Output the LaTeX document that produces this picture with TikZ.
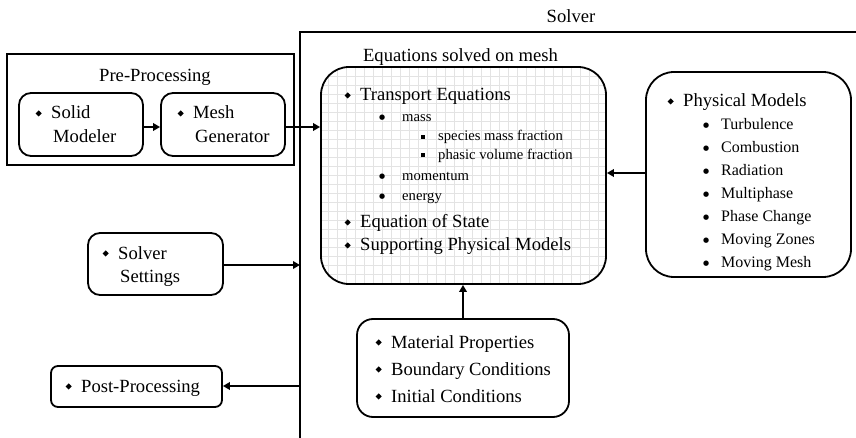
\documentclass[tikz,border=0pt]{standalone}
\usepackage{graphicx}
\usepackage{fontspec}
\setmainfont{Liberation Serif}
\newfontfamily\symf{DejaVu Sans}
\usetikzlibrary{arrows.meta}
\newcommand\mainsz{\fontsize{18.6}{22}\selectfont}
\newcommand\subsz{\fontsize{14.67}{18}\selectfont}
\newcommand\physsz{\fontsize{16}{19}\selectfont}
\newcommand\dmd{\raisebox{2.5pt}{\rotatebox{45}{\rule{4.3pt}{4.3pt}}}}
\newcommand\sqb{\raisebox{2pt}{\rule{4pt}{4pt}}}
\newcommand\rdb{\raisebox{2.6pt}{\symf\fontsize{7}{7}\selectfont ●}}
\newcommand\bl[2]{\llap{\makebox[0pt]{#1}\hspace{#2}}}
\begin{document}
\begin{tikzpicture}[x=1pt,y=-1pt,
  box/.style={draw, line width=1.8pt, rounded corners=#1, inner sep=0pt},
  box/.default=10pt,
  arr/.style={line width=2pt, -{Triangle[length=7pt,width=7.5pt]}},
  txt/.style={anchor=base west, inner sep=0pt, font=\mainsz},
  stxt/.style={anchor=base west, inner sep=0pt, font=\subsz},
  ptxt/.style={anchor=base west, inner sep=0pt, font=\physsz},
  ttl/.style={anchor=base, inner sep=0pt, font=\mainsz},
  gridc/.style={draw=black!11, line width=0.6pt}]
\useasboundingbox (0,0) rectangle (856,438);
% Solver frame
\coordinate (fbot) at (300,438);
\coordinate (fcorner) at (300,32);
\coordinate (fright) at (856,32);
\draw[line width=2pt] (fbot) -- (fcorner) -- (fright);
\node[ttl] (solvert) at (571,23) {Solver};
% Pre-processing
\node[draw, line width=2.6pt, minimum width=287pt, minimum height=111pt, inner sep=0pt] (pre) at (150.5,109.5) {};
\node[ttl] (pret) at (155,82) {Pre-Processing};
\node[box=12pt, minimum width=124pt, minimum height=63pt] (solid) at (81,124.5) {};
\node[box=12pt, minimum width=124pt, minimum height=63pt] (mesh) at (223,124.5) {};
\node[txt] (s1) at (51,119) {\bl{\dmd}{12.5pt}Solid};
\node[txt] (s2) at (53,143) {Modeler};
\node[txt] (m1t) at (193,119) {\bl{\dmd}{12.5pt}Mesh};
\node[txt] (m2t) at (195,143) {Generator};
% Solver settings
\node[box=12pt, minimum width=135pt, minimum height=62pt] (settings) at (155.5,264) {};
\node[txt] (ss1) at (118,259) {\bl{\dmd}{12.5pt}Solver};
\node[txt] (ss2) at (120,282) {Settings};
% Post
\node[box=7pt, minimum width=171pt, minimum height=41pt] (post) at (136.5,386.5) {};
\node[txt] (pp) at (81,392) {\bl{\dmd}{12.5pt}Post-Processing};
% Equations box
\node[box=28pt, minimum width=285pt, minimum height=217pt,
  path picture={\draw[gridc, step=9pt] (path picture bounding box.south west) grid (path picture bounding box.north east);}] (eq) at (463.5,175.5) {};
\node[ttl] (eqt) at (460.5,62) {Equations solved on mesh};
\node[txt] (e1) at (360,101) {\bl{\dmd}{12.5pt}Transport Equations};
\node[stxt] (e2) at (402,122) {\bl{\rdb}{20pt}mass};
\node[stxt] (e3) at (438,141) {\bl{\sqb}{15pt}species mass fraction};
\node[stxt] (e4) at (438,159.5) {\bl{\sqb}{15pt}phasic volume fraction};
\node[stxt] (e5) at (402,181) {\bl{\rdb}{20pt}momentum};
\node[stxt] (e6) at (402,201) {\bl{\rdb}{20pt}energy};
\node[txt] (e7) at (360,228) {\bl{\dmd}{12.5pt}Equation of State};
\node[txt] (e8) at (360,251) {\bl{\dmd}{12.5pt}Supporting Physical Models};
% Physical models
\node[box=28pt, minimum width=205pt, minimum height=205pt] (phys) at (748.5,174.5) {};
\node[txt] (p0) at (683,107) {\bl{\dmd}{12.5pt}Physical Models};
\node[ptxt] (p1) at (721,130) {\bl{\rdb}{15pt}Turbulence};
\node[ptxt] (p2) at (721,153) {\bl{\rdb}{15pt}Combustion};
\node[ptxt] (p3) at (721,176) {\bl{\rdb}{15pt}Radiation};
\node[ptxt] (p4) at (721,199) {\bl{\rdb}{15pt}Multiphase};
\node[ptxt] (p5) at (721,222) {\bl{\rdb}{15pt}Phase Change};
\node[ptxt] (p6) at (721,245) {\bl{\rdb}{15pt}Moving Zones};
\node[ptxt] (p7) at (721,268) {\bl{\rdb}{15pt}Moving Mesh};
% Material
\node[box=16pt, minimum width=212pt, minimum height=98pt] (mat) at (463,368) {};
\node[txt] (a1) at (391,348) {\bl{\dmd}{12.5pt}Material Properties};
\node[txt] (a2) at (391,375) {\bl{\dmd}{12.5pt}Boundary Conditions};
\node[txt] (a3) at (391,402) {\bl{\dmd}{12.5pt}Initial Conditions};
% connectors
\coordinate (sa) at ([yshift=-2.5pt]solid.east);
\coordinate (ma) at ([yshift=-2.5pt]mesh.east);
\draw[arr] (sa) -- (sa -| mesh.west);
\draw[arr] (ma) -- (ma -| eq.west);
\coordinate (sta) at ([yshift=-1pt]settings.east);
\draw[arr] (sta) -- (sta -| fbot);
\coordinate (ppa) at ([yshift=0.5pt]post.east);
\draw[arr] (ppa -| fbot) -- (ppa);
\coordinate (pa) at ([yshift=1.5pt]phys.west);
\draw[arr] (pa) -- (pa -| eq.east);
\draw[arr] (mat.north) -- (mat.north |- eq.south);
\end{tikzpicture}
\end{document}
